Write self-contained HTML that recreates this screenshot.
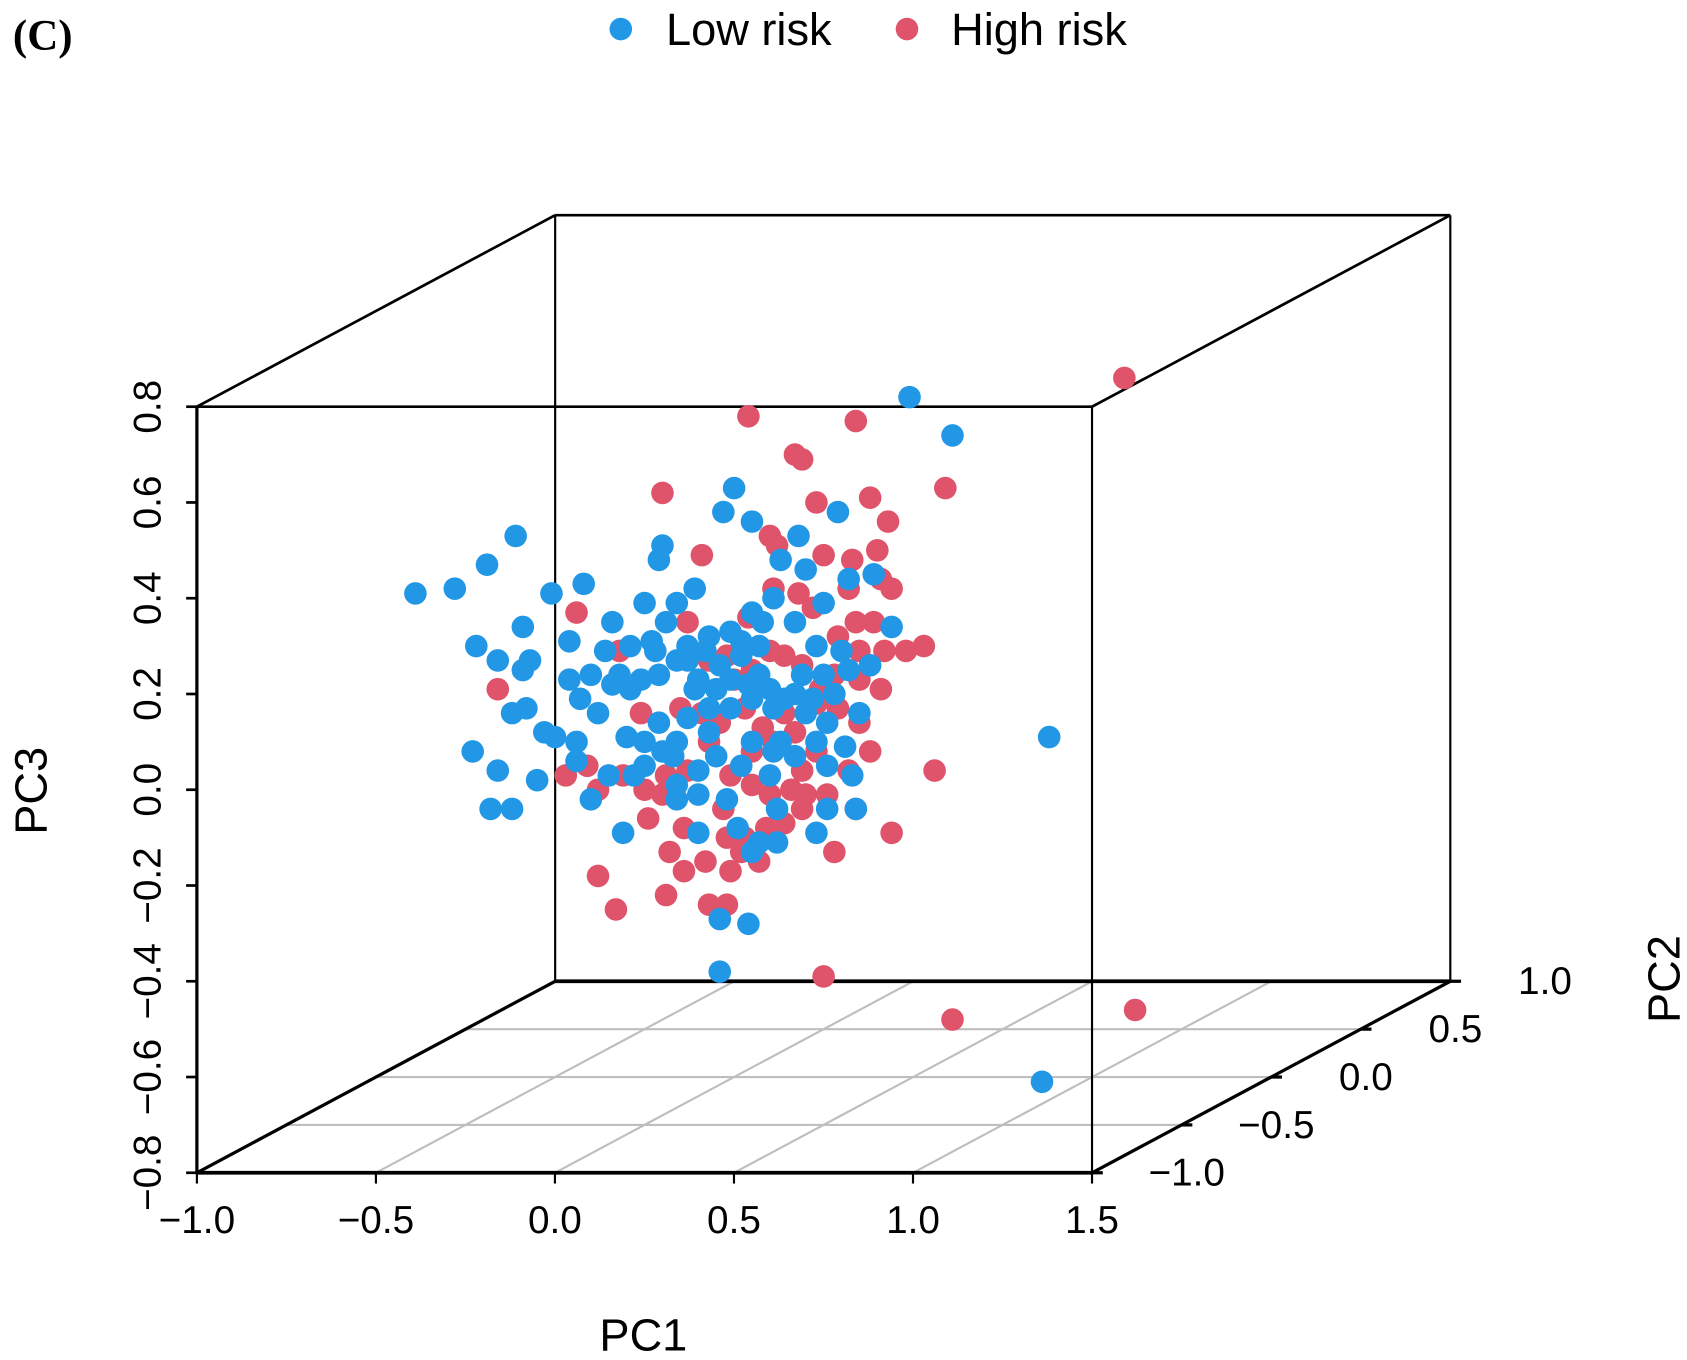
<!DOCTYPE html>
<html><head><meta charset="utf-8"><style>
html,body{margin:0;padding:0;background:#fff;}
svg{display:block;}
text{font-family:"Liberation Sans",Arial,sans-serif;fill:#000;}
</style></head><body>
<svg id="chart" width="1687" height="1360" viewBox="0 0 1568 1264" preserveAspectRatio="none" xmlns="http://www.w3.org/2000/svg">
<text x="12" y="46" style="font-family:'Liberation Serif',serif;font-size:40px;font-weight:bold">(C)</text>
<g>
<circle cx="577" cy="27" r="10.5" fill="#2297E6"/>
<text x="619" y="42" font-size="42">Low risk</text>
<circle cx="843" cy="27" r="10.5" fill="#DF536B"/>
<text x="884" y="42" font-size="42">High risk</text>
</g>
<g id="axes"></g>
<g id="points"></g>
<text x="598" y="1255" font-size="42" text-anchor="middle">PC1</text>
<text transform="translate(43,735) rotate(-90)" font-size="42" text-anchor="middle">PC3</text>
<text transform="translate(1561,910) rotate(-90)" font-size="42" text-anchor="middle">PC2</text>
</svg>
<script>
const pc1Ticks = [-1.0, -0.5, 0.0, 0.5, 1.0, 1.5];
const pc1TickLabels = ["\u22121.0", "\u22120.5", "0.0", "0.5", "1.0", "1.5"];
const pc2Ticks = [-1.0, -0.5, 0.0, 0.5, 1.0];
const pc2TickLabels = ["\u22121.0", "\u22120.5", "0.0", "0.5", "1.0"];
const pc3Ticks = [-0.8, -0.6, -0.4, -0.2, 0.0, 0.2, 0.4, 0.6, 0.8];
const pc3TickLabels = ["\u22120.8", "\u22120.6", "\u22120.4", "\u22120.2", "0.0", "0.2", "0.4", "0.6", "0.8"];

const lowPC1 = [0.49,0.61,0.00,-0.03,0.05,0.18,0.29,-0.20,-0.21,-0.61,-0.69,-0.78,-0.89,-0.51,-0.42,0.13,0.20,0.32,0.39,0.44,0.38,0.35,0.88,-0.59,-0.72,-0.66,-0.57,-0.59,-0.46,-0.34,-0.25,-0.23,-0.19,-0.16,-0.11,-0.07,-0.01,0.05,0.08,0.11,0.17,0.25,0.30,0.25,0.28,0.19,0.14,0.07,0.02,-0.04,-0.10,-0.16,-0.21,-0.26,-0.29,-0.34,-0.40,-0.46,-0.43,-0.38,-0.53,-0.50,-0.62,-0.58,-0.44,-0.30,-0.21,-0.13,-0.07,-0.01,0.05,0.11,0.20,0.26,0.31,0.26,0.17,0.10,0.02,-0.05,-0.10,-0.17,-0.25,-0.28,-0.35,-0.40,-0.44,-0.55,-0.66,-0.73,-0.68,-0.62,-0.31,-0.16,-0.10,-0.02,-0.04,0.04,-0.04,0.05,0.07,0.12,0.12,0.23,0.26,0.34,0.33,-0.20,-0.25,-0.16,-0.07,0.05,0.13,-0.11,0.04,0.10,0.17,0.22,-0.01,-0.05,-0.13,-0.22,-0.29,-0.36,-0.32,-0.08,0.02,0.07,-0.13,0.23,0.32,0.23,0.11,0.01,-0.10,-0.16,0.86];
const lowPC3 = [0.62,0.54,0.43,0.38,0.36,0.33,0.38,0.31,0.28,0.33,0.27,0.22,0.21,0.21,0.23,0.28,0.26,0.24,0.25,0.14,0.06,-0.04,-0.09,0.14,0.10,0.07,0.07,0.05,0.11,0.15,0.19,0.11,0.15,0.19,0.22,0.12,0.13,0.17,0.15,0.20,0.15,0.19,0.09,0.04,0.00,0.04,-0.01,0.04,0.08,0.06,0.03,0.07,0.04,0.03,0.01,0.02,0.04,0.03,-0.01,-0.04,-0.08,-0.09,-0.04,-0.03,-0.10,-0.09,-0.06,-0.05,-0.03,-0.03,-0.01,-0.03,-0.04,-0.06,-0.11,-0.15,-0.13,-0.17,-0.15,-0.13,-0.16,-0.13,-0.15,-0.17,-0.17,-0.22,-0.14,-0.18,-0.16,-0.12,-0.24,-0.24,-0.29,-0.22,-0.29,-0.22,-0.47,-0.48,-0.58,-0.33,-0.31,-0.24,-0.31,-0.29,-0.24,-0.24,-0.17,-0.12,-0.10,-0.10,-0.08,-0.10,-0.10,0.01,0.02,0.01,0.00,-0.01,0.03,0.01,0.07,0.09,0.10,0.09,0.04,0.09,0.11,0.10,0.10,0.10,0.05,-0.10,-0.12,-0.28,-0.21,-0.19,-0.81];

const highPC1 = [1.09,0.04,0.34,0.17,0.19,-0.20,0.59,0.23,0.38,0.43,0.10,0.12,-0.09,0.25,0.33,0.40,0.41,0.44,0.32,0.18,-0.44,0.22,0.34,0.39,0.29,0.35,0.42,0.53,0.48,0.35,0.41,0.24,0.19,0.14,0.10,0.05,0.00,-0.66,-0.32,-0.15,-0.09,-0.04,0.03,0.08,0.14,0.23,0.29,0.35,0.38,0.32,0.23,0.19,0.20,0.16,0.10,0.05,-0.01,-0.07,-0.13,-0.19,-0.25,-0.31,-0.38,-0.47,-0.41,0.56,0.44,0.34,0.28,0.19,0.14,0.09,0.03,-0.02,-0.03,-0.14,-0.18,-0.24,-0.20,-0.38,-0.33,-0.19,-0.14,-0.08,-0.01,-0.07,-0.02,0.07,0.02,0.25,0.61,1.12,0.04,0.11,-0.13,-0.07,-0.02,0.28,0.17,0.05,0.11,0.26,-0.26];
const highPC3 = [0.66,0.58,0.57,0.50,0.49,0.42,0.43,0.40,0.41,0.36,0.33,0.31,0.29,0.29,0.28,0.30,0.24,0.22,0.22,0.21,0.17,0.18,0.15,0.15,0.12,0.09,0.09,0.10,0.09,0.03,0.01,0.01,0.06,0.08,0.09,0.05,0.03,0.01,0.09,-0.03,-0.04,-0.06,-0.03,-0.07,-0.04,-0.02,-0.03,-0.06,-0.12,-0.16,-0.12,-0.16,-0.21,-0.20,-0.21,-0.19,-0.17,-0.10,-0.16,-0.17,-0.20,-0.17,-0.20,-0.17,-0.15,-0.16,-0.29,-0.24,-0.33,-0.24,-0.27,-0.28,-0.30,-0.30,-0.24,-0.28,-0.33,-0.26,-0.21,-0.38,-0.45,-0.42,-0.37,-0.35,-0.37,-0.44,-0.44,-0.35,-0.33,-0.59,-0.68,-0.66,0.16,0.22,0.15,0.07,0.08,0.04,-0.08,-0.12,-0.10,-0.21,-0.04];

const NS = "http://www.w3.org/2000/svg";
function proj(p1, p2, p3) {
  return [183 + (p1 + 1) * 332.8 + (p2 + 1) * 166.5,
          1090 - (p3 + 0.8) * 445 - (p2 + 1) * 89];
}
const axes = document.getElementById('axes');
function line(a, b, stroke, w, name) {
  const l = document.createElementNS(NS, 'line');
  l.setAttribute('x1', a[0]); l.setAttribute('y1', a[1]);
  l.setAttribute('x2', b[0]); l.setAttribute('y2', b[1]);
  l.setAttribute('stroke', stroke); l.setAttribute('stroke-width', w);
  
  
  axes.appendChild(l);
}
function txt(x, y, s, name, rot) {
  const t = document.createElementNS(NS, 'text');
  t.setAttribute('font-size', '36');
  t.setAttribute('text-anchor', 'middle');
  if (rot) t.setAttribute('transform', 'translate(' + x + ',' + y + ') rotate(-90)');
  else { t.setAttribute('x', x); t.setAttribute('y', y); }
  t.textContent = s;
  
  
  axes.appendChild(t);
}
pc1Ticks.slice(1, -1).forEach(v => line(proj(v, -1, -0.8), proj(v, 1, -0.8), '#BEBEBE', 2, 'pc1-gridline'));
pc2Ticks.slice(1, -1).forEach(v => line(proj(-1, v, -0.8), proj(1.5, v, -0.8), '#BEBEBE', 2, 'pc2-gridline'));
const c = (a, b, d) => proj(a, b, d);
line(c(-1,-1,-0.8), c(1.5,-1,-0.8), '#000', 3.5, 'front-bottom-edge');
line(c(-1,1,-0.8), c(1.5,1,-0.8), '#000', 3.5, 'back-bottom-edge');
line(c(-1,-1,-0.8), c(-1,1,-0.8), '#000', 3, 'left-floor-edge');
line(c(1.5,-1,-0.8), c(1.5,1,-0.8), '#000', 3, 'right-floor-edge');
line(c(-1,-1,0.8), c(1.5,-1,0.8), '#000', 2.5, 'front-top-edge');
line(c(-1,1,0.8), c(1.5,1,0.8), '#000', 2.5, 'back-top-edge');
line(c(-1,-1,0.8), c(-1,1,0.8), '#000', 2.5, 'left-top-edge');
line(c(1.5,-1,0.8), c(1.5,1,0.8), '#000', 2.5, 'right-top-edge');
line(c(-1,-1,-0.8), c(-1,-1,0.8), '#000', 3, 'front-left-edge');
line(c(1.5,-1,-0.8), c(1.5,-1,0.8), '#000', 2, 'front-right-edge');
line(c(-1,1,-0.8), c(-1,1,0.8), '#000', 2, 'back-left-edge');
line(c(1.5,1,-0.8), c(1.5,1,0.8), '#000', 2, 'back-right-edge');
pc1Ticks.forEach((v, i) => { const p = proj(v, -1, -0.8); line(p, [p[0], p[1] + 10], '#000', 2, 'pc1-tick'); txt(p[0], p[1] + 56, pc1TickLabels[i], 'pc1-tick-label'); });
pc3Ticks.forEach((v, i) => { const p = proj(-1, -1, v); line(p, [p[0] - 10, p[1]], '#000', 2.5, 'pc3-tick'); txt(p[0] - 34, p[1], pc3TickLabels[i], 'pc3-tick-label', true); });
pc2Ticks.forEach((v, i) => { const p = proj(1.5, v, -0.8); line(p, [p[0] + 10, p[1]], '#000', 3, 'pc2-tick'); txt(p[0] + 88, p[1] + 12, pc2TickLabels[i], 'pc2-tick-label'); });
const pts = document.getElementById('points');
function drawSeries(xs, zs, color, name) {
  xs.forEach((v, i) => {
    const p = proj(v, 0, zs[i]);
    const el = document.createElementNS(NS, 'circle');
    el.setAttribute('cx', p[0]); el.setAttribute('cy', p[1]); el.setAttribute('r', 10.5);
    el.setAttribute('fill', color);
    
    
    pts.appendChild(el);
  });
}
drawSeries(highPC1, highPC3, '#DF536B', 'high-risk-point');
drawSeries(lowPC1, lowPC3, '#2297E6', 'low-risk-point');
</script>
</body></html>
